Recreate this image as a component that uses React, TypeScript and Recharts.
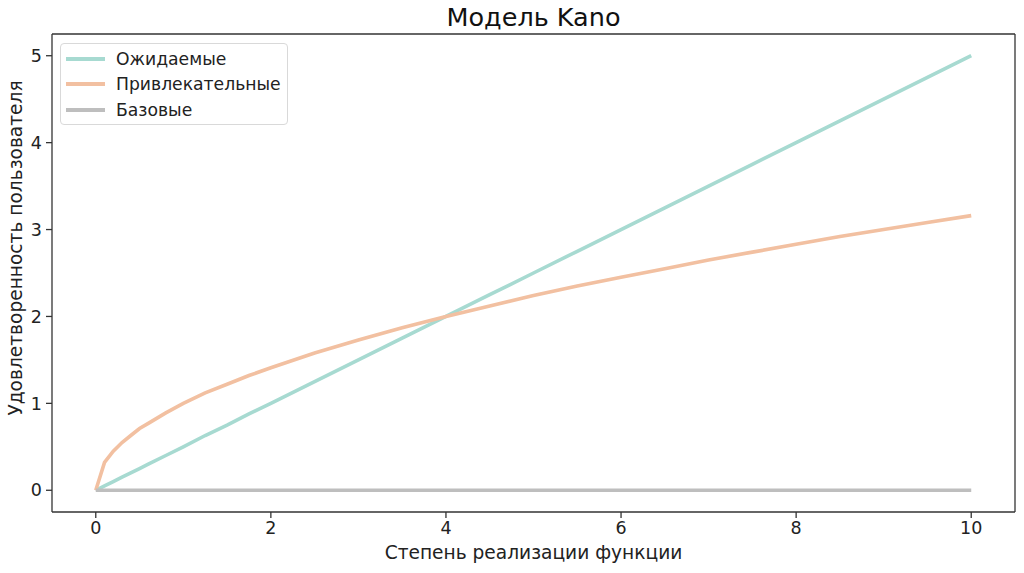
import { Legend, Line, LineChart, ReferenceLine, XAxis, YAxis } from "recharts";

// степень реализации функции
const xValues = [0, 0.1, 0.2, 0.3, 0.4, 0.5, 0.6, 0.8, 1, 1.25, 1.5, 1.75, 2, 2.5, 3, 3.5, 4, 4.5, 5, 5.5, 6, 6.5, 7, 7.5, 8, 8.5, 9, 9.5, 10];
const expected = [0, 0.05, 0.1, 0.15, 0.2, 0.25, 0.3, 0.4, 0.5, 0.63, 0.75, 0.88, 1, 1.25, 1.5, 1.75, 2, 2.25, 2.5, 2.75, 3, 3.25, 3.5, 3.75, 4, 4.25, 4.5, 4.75, 5];
const attractive = [0, 0.32, 0.45, 0.55, 0.63, 0.71, 0.77, 0.89, 1, 1.12, 1.22, 1.32, 1.41, 1.58, 1.73, 1.87, 2, 2.12, 2.24, 2.35, 2.45, 2.55, 2.65, 2.74, 2.83, 2.92, 3, 3.08, 3.16];
const basic = [0, 0, 0, 0, 0, 0, 0, 0, 0, 0, 0, 0, 0, 0, 0, 0, 0, 0, 0, 0, 0, 0, 0, 0, 0, 0, 0, 0, 0];

const xTicks = [0, 2, 4, 6, 8, 10];
const yTicks = [0, 1, 2, 3, 4, 5];

const series = [
  { key: "expected", name: "Ожидаемые", color: "#a7dad1" },
  { key: "attractive", name: "Привлекательные", color: "#f2c0a1" },
  { key: "basic", name: "Базовые", color: "#bebebe" },
];

const data = xValues.map((x, i) => ({
  x,
  expected: expected[i],
  attractive: attractive[i],
  basic: basic[i],
}));

const FONT = "'DejaVu Sans', sans-serif";
const AXIS = "#333";
const TEXT = "#222";

function LegendBox() {
  return (
    <div
      style={{
        border: "1px solid #d9d9d9",
        borderRadius: 4,
        background: "rgba(255,255,255,0.8)",
        padding: "2px 6px 1px 5px",
        fontFamily: FONT,
        fontSize: 17.2,
        color: TEXT,
      }}
    >
      {series.map((s) => (
        <div key={s.key} style={{ display: "flex", alignItems: "center", height: 25.5 }}>
          <span style={{ display: "inline-block", width: 39, height: 4, background: s.color, marginRight: 11 }} />
          <span>{s.name}</span>
        </div>
      ))}
    </div>
  );
}

export default function App() {
  return (
    <div style={{ position: "absolute", left: 0, top: 0, width: 1024, height: 573, background: "#fff" }}>
      <div
        style={{
          position: "absolute",
          left: 52,
          width: 963,
          top: 2,
          textAlign: "center",
          fontFamily: FONT,
          fontSize: 25.5,
          color: "#111",
        }}
      >
        Модель Kano
      </div>
      <LineChart
        width={1024}
        height={573}
        data={data}
        margin={{ top: 34, right: 9, bottom: 0, left: 0 }}
        style={{ position: "absolute", left: 0, top: 0 }}
      >
        <XAxis
          dataKey="x"
          type="number"
          domain={[-0.5, 10.5]}
          ticks={xTicks}
          height={61}
          tickSize={6}
          tickMargin={4}
          stroke={AXIS}
          strokeWidth={1.3}
          tick={{ fill: TEXT, fontSize: 17.5, fontFamily: FONT }}
          tickLine={{ stroke: AXIS }}
          label={{
            value: "Степень реализации функции",
            position: "insideBottom",
            offset: 14,
            fill: TEXT,
            fontSize: 18.6,
            fontFamily: FONT,
          }}
        />
        <YAxis
          type="number"
          domain={[-0.25, 5.25]}
          ticks={yTicks}
          width={52}
          tickSize={6}
          tickMargin={4}
          stroke={AXIS}
          strokeWidth={1.3}
          tick={{ fill: TEXT, fontSize: 17.5, fontFamily: FONT }}
          tickLine={{ stroke: AXIS }}
          label={{
            content: () => (
              <text
                x={15}
                y={248}
                transform="rotate(-90 15 248)"
                textAnchor="middle"
                dominantBaseline="central"
                fill={TEXT}
                fontSize={18.6}
                fontFamily={FONT}
              >
                Удовлетворенность пользователя
              </text>
            ),
          }}
        />
        <ReferenceLine x={10.5} stroke={AXIS} strokeWidth={1.3} ifOverflow="visible" />
        <ReferenceLine y={5.25} stroke={AXIS} strokeWidth={1.3} ifOverflow="visible" />
        <Legend
          layout="vertical"
          align="center"
          verticalAlign="middle"
          wrapperStyle={{ left: 60, top: 43, width: "auto", height: "auto" }}
          content={() => <LegendBox />}
        />
        {series.map((s) => (
          <Line
            key={s.key}
            dataKey={s.key}
            name={s.name}
            type="linear"
            stroke={s.color}
            strokeWidth={3.6}
            dot={false}
            activeDot={false}
            isAnimationActive={false}
          />
        ))}
      </LineChart>
    </div>
  );
}
